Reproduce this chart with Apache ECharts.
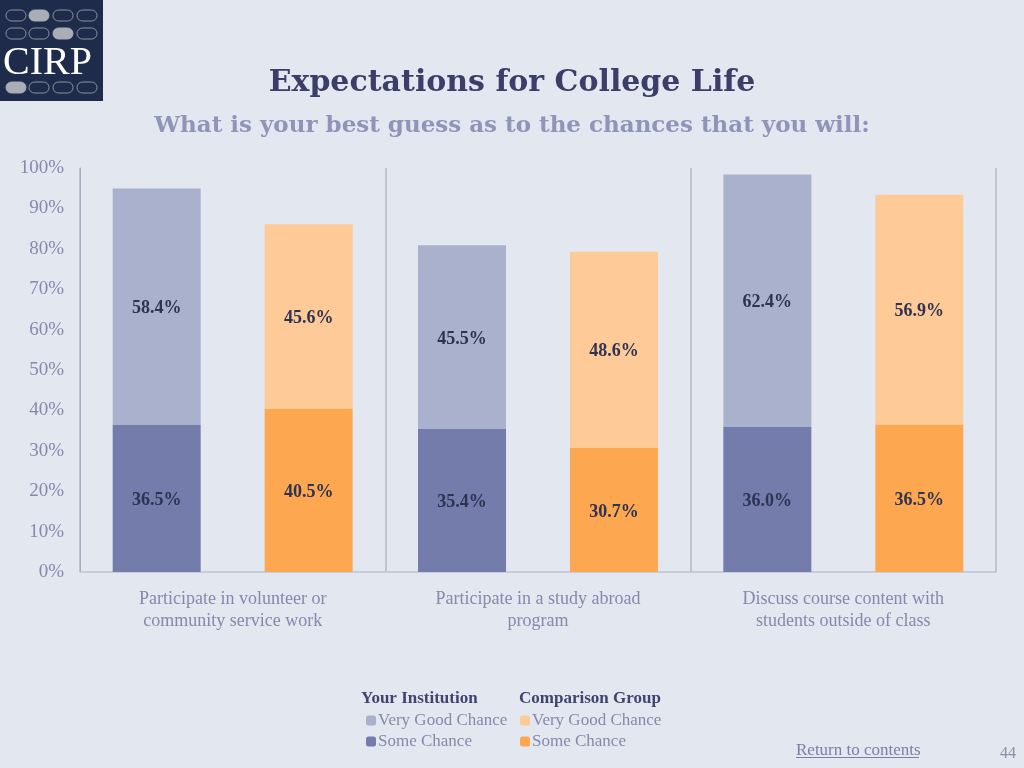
<!DOCTYPE html>
<html><head><meta charset="utf-8">
<script src="https://cdn.jsdelivr.net/npm/echarts@6/dist/echarts.min.js"></script>
<style>html,body{margin:0;padding:0;background:#e3e7ef;}#c{width:1024px;height:768px;}</style>
</head><body><div id="c"></div>
<script>
const categories = ['Participate in volunteer or\ncommunity service work', 'Participate in a study abroad\nprogram', 'Discuss course content with\nstudents outside of class'];
const instSome = [36.5, 35.4, 36.0];
const instVeryGood = [58.4, 45.5, 62.4];
const compSome = [40.5, 30.7, 36.5];
const compVeryGood = [45.6, 48.6, 56.9];
const yTicks = [0, 10, 20, 30, 40, 50, 60, 70, 80, 90, 100];

const serif = '"Liberation Serif", "DejaVu Serif", serif';
const wideSerif = '"DejaVu Serif", serif';
const labelStyle = {show: true, position: 'inside', offset: [0, 2], color: '#2e3352', fontFamily: serif, fontWeight: 'bold', fontSize: 18, formatter: p => p.value.toFixed(1) + '%'};
const names = {iv: 'Very Good Chance', is: 'Some Chance', cv: 'Very Good Chance', cs: 'Some Chance'};

function ovals(y, filledIdx) {
  const xs = [6, 29, 53, 77];
  return xs.map((x, i) => ({type: 'rect', shape: {x: x, y: y, width: 20, height: 11, r: 5.5},
    style: i === filledIdx ? {fill: '#a9aeb6', stroke: '#a9aeb6', lineWidth: 1} : {fill: 'none', stroke: '#8d93a3', lineWidth: 1}}));
}

const legendText = {color: '#8589ad', fontFamily: serif, fontSize: 17, padding: [0, 0, 0, -3]};

const chart = echarts.init(document.getElementById('c'));
chart.setOption({
  backgroundColor: '#e3e7ef',
  animation: false,
  title: [
    {text: 'Expectations for College Life', left: 'center', top: 63, textStyle: {fontFamily: wideSerif, fontWeight: 'bold', fontSize: 30, color: '#3a3e69'}},
    {text: 'What is your best guess as to the chances that you will:', left: 'center', top: 110, textStyle: {fontFamily: wideSerif, fontWeight: 'bold', fontSize: 23, color: '#8f94b9'}}
  ],
  grid: {left: 80, right: 28, top: 168, bottom: 196},
  xAxis: {
    type: 'category', data: categories,
    axisLine: {show: true, lineStyle: {color: '#c0c4d4', width: 1.5}},
    axisTick: {show: false},
    splitLine: {show: true, interval: 0, lineStyle: {color: '#b3b7c8', width: 1.5}},
    axisLabel: {color: '#8589ad', fontFamily: serif, fontSize: 18, lineHeight: 22, margin: 16, interval: 0}
  },
  yAxis: {
    type: 'value', min: yTicks[0], max: yTicks[yTicks.length - 1], interval: 10,
    axisLine: {show: true, lineStyle: {color: '#a9adc4'}},
    axisTick: {show: false},
    splitLine: {show: false},
    axisLabel: {formatter: '{value}%', color: '#8589ad', fontFamily: serif, fontSize: 19, margin: 16}
  },
  legend: [
    {orient: 'vertical', left: 366, top: 712, padding: 0, itemWidth: 10, itemHeight: 10, itemGap: 4,
     data: ['iv', 'is'], formatter: n => names[n], textStyle: legendText},
    {orient: 'vertical', left: 520, top: 712, padding: 0, itemWidth: 10, itemHeight: 10, itemGap: 4,
     data: ['cv', 'cs'], formatter: n => names[n], textStyle: legendText}
  ],
  series: [
    {name: 'is', type: 'bar', stack: 'inst', data: instSome, barWidth: 88, barGap: '72.7%', itemStyle: {color: '#737cab'}, label: labelStyle},
    {name: 'iv', type: 'bar', stack: 'inst', data: instVeryGood, barWidth: 88, barGap: '72.7%', itemStyle: {color: '#a9b1cc'}, label: labelStyle},
    {name: 'cs', type: 'bar', stack: 'comp', data: compSome, barWidth: 88, barGap: '72.7%', itemStyle: {color: '#fda851'}, label: labelStyle},
    {name: 'cv', type: 'bar', stack: 'comp', data: compVeryGood, barWidth: 88, barGap: '72.7%', itemStyle: {color: '#fdca98'}, label: labelStyle}
  ],
  graphic: [
    {type: 'rect', shape: {x: 0, y: 0, width: 103, height: 101}, style: {fill: '#1e2b4a'}},
    ...ovals(10, 1), ...ovals(28, 2), ...ovals(82, 0),
    {type: 'text', left: 3, top: 43, style: {text: 'CIRP', fill: '#ffffff', font: '40px ' + serif}},
    {type: 'text', left: 361, top: 690, style: {text: 'Your Institution', fill: '#3f4470', font: 'bold 17px ' + serif}},
    {type: 'text', left: 519, top: 690, style: {text: 'Comparison Group', fill: '#3f4470', font: 'bold 17px ' + serif}},
    {type: 'text', left: 796, top: 742, style: {text: 'Return to contents', fill: '#7a7fa6', font: '17px ' + serif}},
    {type: 'rect', shape: {x: 796, y: 757, width: 123, height: 1}, style: {fill: '#7a7fa6'}},
    {type: 'text', left: 1000, top: 746, style: {text: '44', fill: '#8a8ea8', font: '16px ' + serif}}
  ]
});
</script></body></html>
